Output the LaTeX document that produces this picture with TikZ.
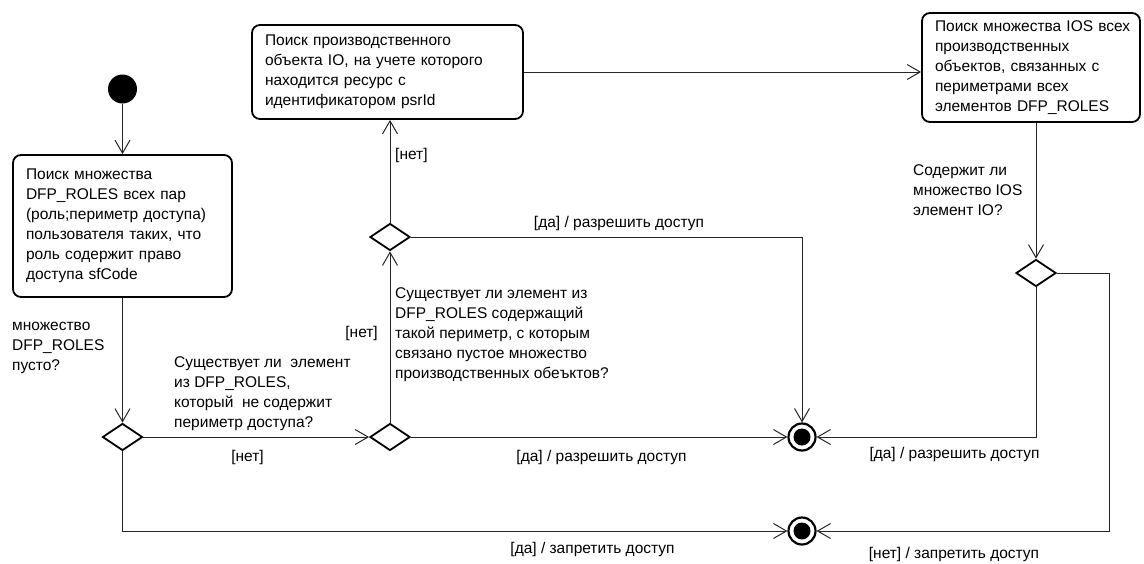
\documentclass[tikz,border=0pt]{standalone}
\usepackage{fontspec}
\setmainfont{Liberation Sans}
\usetikzlibrary{arrows.meta,shapes.geometric}
\begin{document}
\begin{tikzpicture}[x=1pt,y=-1pt,
  font=\fontsize{15.5}{20}\selectfont,
  conn/.style={draw=black!85, line width=1pt, -{Straight Barb[length=13pt,width=15pt,line width=1pt]}},
  act/.style={draw, line width=1.8pt, rounded corners=8pt, align=left, inner xsep=13pt, inner ysep=0pt},
  dec/.style={diamond, draw, line width=1.8pt, minimum width=40pt, minimum height=27pt, inner sep=0pt},
  startn/.style={circle, fill=black, minimum size=29pt, inner sep=0pt},
  fin/.style={circle, draw, line width=2.2pt, minimum size=27pt, inner sep=0pt,
    path picture={\fill (path picture bounding box.center) circle (8.5pt);}},
  lbl/.style={inner sep=0pt, text height=11pt, text depth=3pt},
  para/.style={inner sep=0pt, anchor=base west},
]
\useasboundingbox (0,0) rectangle (1144,563);

% nodes
\node[startn] (start) at (122.5,89) {};
\node[act, text width=193pt, minimum width=219pt, minimum height=142pt] (box1) at (122.5,226)
  {Поиск множества\\DFP\_ROLES всех пар\\\mbox{(роль;периметр доступа)}\\пользователя таких, что\\роль содержит право\\доступа sfCode};
\node[act, text width=245pt, minimum width=271pt, minimum height=94pt] (box2) at (387.5,72)
  {Поиск производственного\\объекта IO, на учете которого\\находится ресурс с\\идентификатором psrId};
\node[act, text width=192pt, minimum width=218pt, minimum height=109pt] (box3) at (1031,67.5)
  {\mbox{Поиск множества IOS всех}\\производственных\\объектов, связанных с\\периметрами всех\\элементов DFP\_ROLES};

\node[dec] (D1) at (122.5,437) {};
\node[dec] (D2) at (390,437) {};
\node[dec] (D4) at (390,237) {};
\node[dec] (D3) at (1036,273) {};

\node[fin] (F1) at (802,437) {};
\node[fin] (F2) at (802,531) {};

\coordinate (r1) at (1109,273);

% connectors
\draw[conn] (start) -- (box1.north);
\draw[conn] (box1.south) -- (D1.north);
\draw[conn] (D1.east) -- (D2.west);
\draw[conn] (D2.east) -- (F1.west);
\draw[conn] (D2.north) -- (D4.south);
\draw[conn] (D4.north) -- (D4.north |- box2.south);
\draw[conn] (D4.east) -| (F1.north);
\draw[conn] (box2.east) -- (box2.east -| box3.west);
\draw[conn] (D3.north |- box3.south) -- (D3.north);
\draw[conn] (D3.south) |- (F1.east);
\draw[conn] (D3.east) -- (r1) |- (F2.east);
\draw[conn] (D1.south) |- (F2.west);

% guard texts
\node[para] (qleft) at (12,330) {\parbox[t]{150pt}{\raggedright множество\\DFP\_ROLES\\пусто?}};
\node[para] (q1) at (174,367) {\parbox[t]{200pt}{\raggedright Существует ли\ \ элемент\\из DFP\_ROLES,\\который\ \ не содержит\\периметр доступа?}};
\node[para] (q2) at (395,298) {\parbox[t]{250pt}{\raggedright Существует ли элемент из\\DFP\_ROLES содержащий\\такой периметр, с которым\\связано пустое множество\\производственных обеъктов?}};
\node[para] (q3) at (913,175) {\parbox[t]{150pt}{\raggedright Содержит ли\\множество IOS\\элемент IO?}};

\node[lbl, anchor=west] (n1) at (395,155) {[нет]};
\node[lbl, anchor=east] (n2) at (378,333) {[нет]};
\node[lbl] (n3) at (247.5,457) {[нет]};
\node[lbl] (y1) at (619,223) {[да] / разрешить доступ};
\node[lbl] (y2) at (601.5,457) {[да] / разрешить доступ};
\node[lbl] (y3) at (954.5,454) {[да] / разрешить доступ};
\node[lbl] (z1) at (954,554) {[нет] / запретить доступ};
\node[lbl] (z2) at (592.5,549) {[да] / запретить доступ};
\end{tikzpicture}
\end{document}
